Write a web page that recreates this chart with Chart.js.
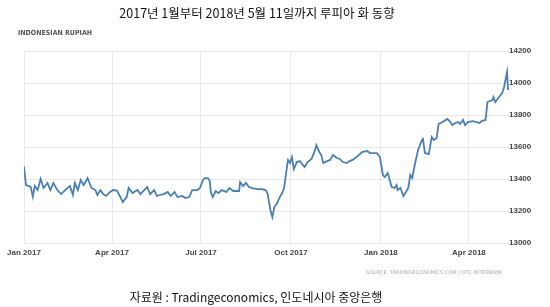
<!DOCTYPE html>
<html>
<head>
<meta charset="utf-8">
<script src="https://cdn.jsdelivr.net/npm/chart.js@4"></script>
<style>
  html, body { margin: 0; padding: 0; background: #fff; }
  #wrap { width: 550px; height: 307px; position: relative; }
</style>
</head>
<body>
<div id="wrap"><canvas id="chart"></canvas></div>
<script>
// days counted from 1 Jan 2017
var days = [0,2,5,7,9,11,14,17,20,24,27,30,34,38,42,47,50,52,55,58,61,65,69,73,75,78,81,84,88,91,
  95,98,101,105,107,111,116,119,123,126,129,133,136,139,143,147,150,154,157,162,165,169,172,177,180,183,185,188,190,191,
  193,196,199,202,207,210,214,217,220,221,224,227,230,234,239,243,247,249,252,254,256,259,261,264,266,268,270,272,274,276,
  279,282,287,290,294,297,299,302,304,306,310,313,316,320,323,326,330,333,336,340,346,351,354,361,364,367,369,372,376,379,
  381,382,385,388,390,393,395,397,400,403,407,408,410,414,417,419,422,424,428,433,436,438,441,444,446,449,451,454,459,463,
  466,468,472,474,479,480,482,485,489,491,494,495];
var rupiah = [13477,13362,13356,13350,13290,13356,13331,13400,13344,13375,13331,13375,13331,13306,13331,13356,13300,13375,13331,13394,13362,13406,13344,13331,13300,13331,13306,13294,13319,13331,
  13327,13294,13256,13287,13344,13312,13331,13306,13331,13350,13306,13331,13294,13300,13306,13319,13294,13319,13287,13294,13281,13287,13331,13331,13344,13394,13406,13406,13387,13319,
  13287,13325,13312,13331,13319,13344,13325,13325,13325,13381,13356,13375,13350,13341,13337,13337,13331,13312,13206,13162,13225,13250,13281,13312,13344,13437,13519,13500,13537,13462,
  13506,13512,13475,13506,13525,13569,13612,13569,13550,13500,13512,13519,13550,13531,13525,13506,13500,13512,13519,13537,13569,13575,13562,13562,13537,13425,13412,13437,13350,13344,
  13362,13331,13344,13294,13312,13344,13425,13406,13500,13581,13644,13650,13562,13556,13662,13644,13656,13744,13756,13775,13756,13737,13750,13756,13744,13769,13737,13756,13762,13756,
  13750,13762,13769,13881,13894,13912,13881,13906,13937,13975,14069,13956];

var tickDays = [0, 90, 181, 273, 365, 455];
var tickLabels = ['Jan 2017', 'Apr 2017', 'Jul 2017', 'Oct 2017', 'Jan 2018', 'Apr 2018'];

var title = '2017년 1월부터 2018년 5월 11일까지 루피아 화 동향';
var seriesName = 'INDONESIAN RUPIAH';
var source = 'SOURCE: TRADINGECONOMICS.COM | OTC INTERBANK';
var caption = '자료원 : Tradingeconomics, 인도네시아 중앙은행';

var points = days.map(function(d, i){ return {x: d, y: rupiah[i]}; });

var textPlugin = {
  id: 'texts',
  afterDraw: function(chart){
    var c = chart.ctx;
    c.save();
    c.textBaseline = 'middle';
    c.fillStyle = '#111';
    c.font = '12.5px "Noto Sans CJK KR"';
    c.textAlign = 'center';
    c.fillText(title, 257, 13);

    c.fillStyle = '#555';
    c.font = 'bold 7px "DejaVu Sans Condensed", "DejaVu Sans"';
    c.textAlign = 'left';
    c.fillText(seriesName, 18, 33);

    c.fillStyle = '#aaa';
    c.font = '5px "DejaVu Sans"';
    c.textAlign = 'right';
    c.fillText(source, 502, 273);

    c.fillStyle = '#111';
    c.font = '12px "Noto Sans CJK KR"';
    c.textAlign = 'center';
    c.fillText(caption, 256, 297);
    c.restore();
  }
};

new Chart(document.getElementById('chart'), {
  type: 'line',
  data: {
    datasets: [{
      label: seriesName,
      data: points,
      borderColor: '#4a7fb6',
      borderWidth: 1.8,
      pointRadius: 0,
      tension: 0,
      fill: false
    }]
  },
  options: {
    responsive: true,
    maintainAspectRatio: false,
    animation: false,
    layout: { padding: { top: 51, left: 24, right: 0, bottom: 50 } },
    plugins: {
      legend: { display: false },
      tooltip: { enabled: false }
    },
    scales: {
      x: {
        type: 'linear',
        min: 0,
        max: 496,
        afterBuildTicks: function(axis){
          axis.ticks = tickDays.map(function(v){ return {value: v}; });
        },
        afterFit: function(axis){ axis.height = 14; },
        grid: { color: '#e9e9e9', drawTicks: false },
        border: { display: false },
        ticks: {
          autoSkip: false,
          maxRotation: 0,
          padding: 5,
          color: '#444',
          font: { family: 'Liberation Sans', size: 8, weight: 'bold' },
          callback: function(v){
            var i = tickDays.indexOf(v);
            return i >= 0 ? tickLabels[i] : '';
          }
        }
      },
      y: {
        position: 'right',
        min: 13000,
        max: 14200,
        afterFit: function(axis){ axis.width = 41; },
        grid: { color: '#e9e9e9', drawTicks: false },
        border: { display: false },
        ticks: {
          stepSize: 200,
          padding: 0,
          color: '#444',
          font: { family: 'Liberation Sans', size: 8, weight: 'bold' },
          callback: function(v){ return String(v); }
        }
      }
    }
  },
  plugins: [textPlugin]
});
</script>
</body>
</html>
